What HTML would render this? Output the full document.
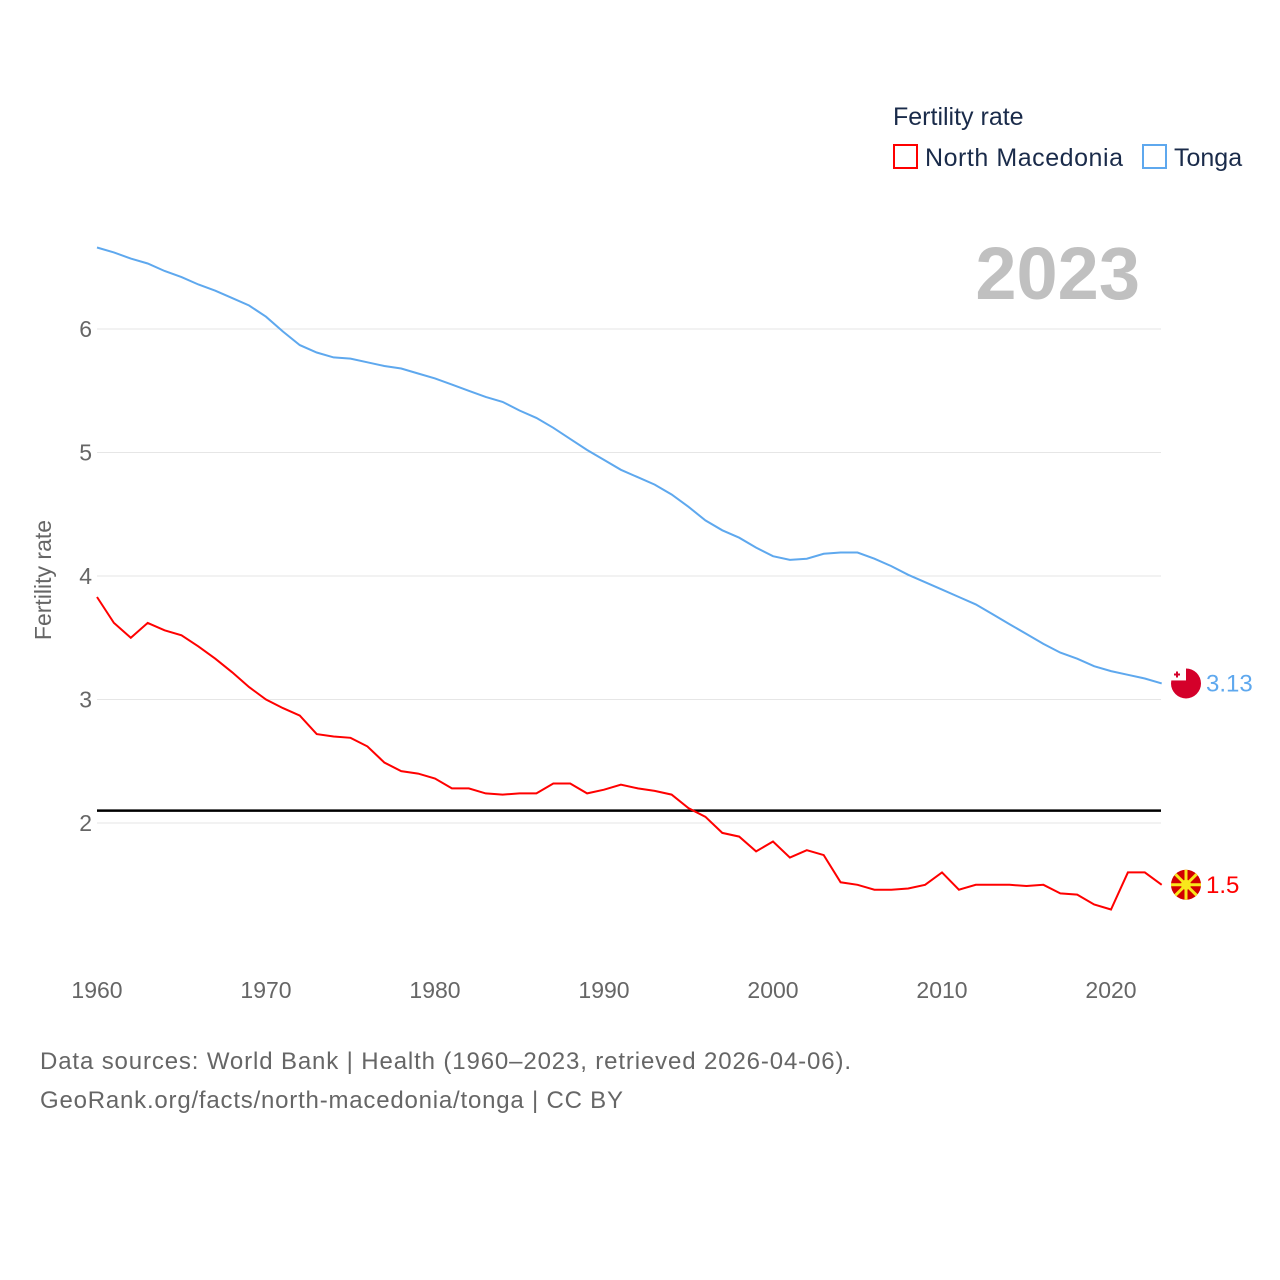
<!DOCTYPE html>
<html><head><meta charset="utf-8"><style>
body{margin:0;background:#fff;font-family:"Liberation Sans",sans-serif}
</style></head><body>
<svg width="1280" height="1280" xmlns="http://www.w3.org/2000/svg" id="chart" style="display:block">
<text x="893" y="125" font-size="25" fill="#1a2b4a">Fertility rate</text>
<rect x="894" y="145" width="23" height="23" fill="none" stroke="#f00" stroke-width="2"/>
<text x="925" y="166" font-size="25" fill="#1a2b4a" textLength="198">North Macedonia</text>
<rect x="1143" y="145" width="23" height="23" fill="none" stroke="#5ea8ee" stroke-width="2"/>
<text x="1174" y="166" font-size="25" fill="#1a2b4a">Tonga</text>
<text x="1140" y="299" font-size="74" font-weight="bold" fill="#c0c0c0" text-anchor="end">2023</text>
<text transform="translate(51,580) rotate(-90)" font-size="23" fill="#666" text-anchor="middle">Fertility rate</text>
<g id="grid"></g><g id="series"></g>
<text x="40" y="1069" font-size="24" fill="#666" textLength="811">Data sources: World Bank | Health (1960–2023, retrieved 2026-04-06).</text>
<text x="40" y="1108" font-size="24" fill="#666" textLength="583">GeoRank.org/facts/north-macedonia/tonga | CC BY</text>
</svg>
<script>
const yTicks=[2,3,4,5,6];
const xTicks=[1960,1970,1980,1990,2000,2010,2020];
const startYear=1960;
const tonga=[6.66,6.62,6.57,6.53,6.47,6.42,6.36,6.31,6.25,6.19,6.10,5.98,5.87,5.81,5.77,5.76,5.73,5.70,5.68,5.64,5.60,5.55,5.50,5.45,5.41,5.34,5.28,5.20,5.11,5.02,4.94,4.86,4.80,4.74,4.66,4.56,4.45,4.37,4.31,4.23,4.16,4.13,4.14,4.18,4.19,4.19,4.14,4.08,4.01,3.95,3.89,3.83,3.77,3.69,3.61,3.53,3.45,3.38,3.33,3.27,3.23,3.20,3.17,3.13];
const macedonia=[3.83,3.62,3.50,3.62,3.56,3.52,3.43,3.33,3.22,3.10,3.00,2.93,2.87,2.72,2.70,2.69,2.62,2.49,2.42,2.40,2.36,2.28,2.28,2.24,2.23,2.24,2.24,2.32,2.32,2.24,2.27,2.31,2.28,2.26,2.23,2.12,2.05,1.92,1.89,1.77,1.85,1.72,1.78,1.74,1.52,1.50,1.46,1.46,1.47,1.50,1.60,1.46,1.50,1.50,1.50,1.49,1.50,1.43,1.42,1.34,1.30,1.60,1.60,1.50];
const replacement=2.1;
const NS="http://www.w3.org/2000/svg";
const X=yr=>97+(yr-1960)*16.9;
const Y=v=>823-(v-2)*123.5;
const g=document.getElementById('grid'),s=document.getElementById('series');
function mk(t,a,p){const e=document.createElementNS(NS,t);for(const k in a)e.setAttribute(k,a[k]);p.appendChild(e);return e;}
yTicks.forEach(v=>{
 const l=mk('line',{x1:97,x2:1161,y1:Y(v),y2:Y(v),stroke:'#e6e6e6','stroke-width':1},g);
 
 
 const t=mk('text',{x:92,y:Y(v)+8,'font-size':23,fill:'#666','text-anchor':'end'},g);t.textContent=v;
 
 
});
xTicks.forEach(v=>{
 const t=mk('text',{x:X(v),y:998,'font-size':23,fill:'#666','text-anchor':'middle'},g);t.textContent=v;
 
 
});
const rl=mk('line',{x1:97,x2:1161,y1:Y(replacement),y2:Y(replacement),stroke:'#000','stroke-width':2.5},s);


function line(d,c,name){
 const p=mk('path',{d:d.map((v,i)=>(i?'L':'M')+X(startYear+i).toFixed(1)+','+Y(v).toFixed(1)).join(''),fill:'none',stroke:c,'stroke-width':2},s);
 
 
}
line(tonga,'#5ea8ee','tonga');
line(macedonia,'#f00','north-macedonia');
function endLabel(d,c,name,txt){
 const y=Y(d[d.length-1]);
 const cx=1186;
 const f=mk('circle',{cx:cx,cy:y,r:15,fill:name=='tonga'?'#d4002a':'#d20000'},s);
 
 
 if(name=='tonga'){mk('rect',{x:cx-15,y:y-15,width:15,height:12,fill:'#fff'},s);mk('path',{d:`M${cx-9} ${y-12}v6M${cx-12} ${y-9}h6`,stroke:'#d4002a','stroke-width':2},s);}
 else{mk('circle',{cx:cx,cy:y,r:5,fill:'#f8e71c'},s);for(let k=0;k<8;k++){const a=k*Math.PI/4;mk('line',{x1:cx,y1:y,x2:cx+15*Math.cos(a),y2:y+15*Math.sin(a),stroke:'#f8e71c','stroke-width':3},s);}}
 const t=mk('text',{x:1206,y:y+8,'font-size':24,fill:c},s);t.textContent=txt;
 
 
}
endLabel(tonga,'#5ea8ee','tonga',tonga[tonga.length-1].toFixed(2));
endLabel(macedonia,'#f00','north-macedonia',String(macedonia[macedonia.length-1]));
</script>
</body></html>
